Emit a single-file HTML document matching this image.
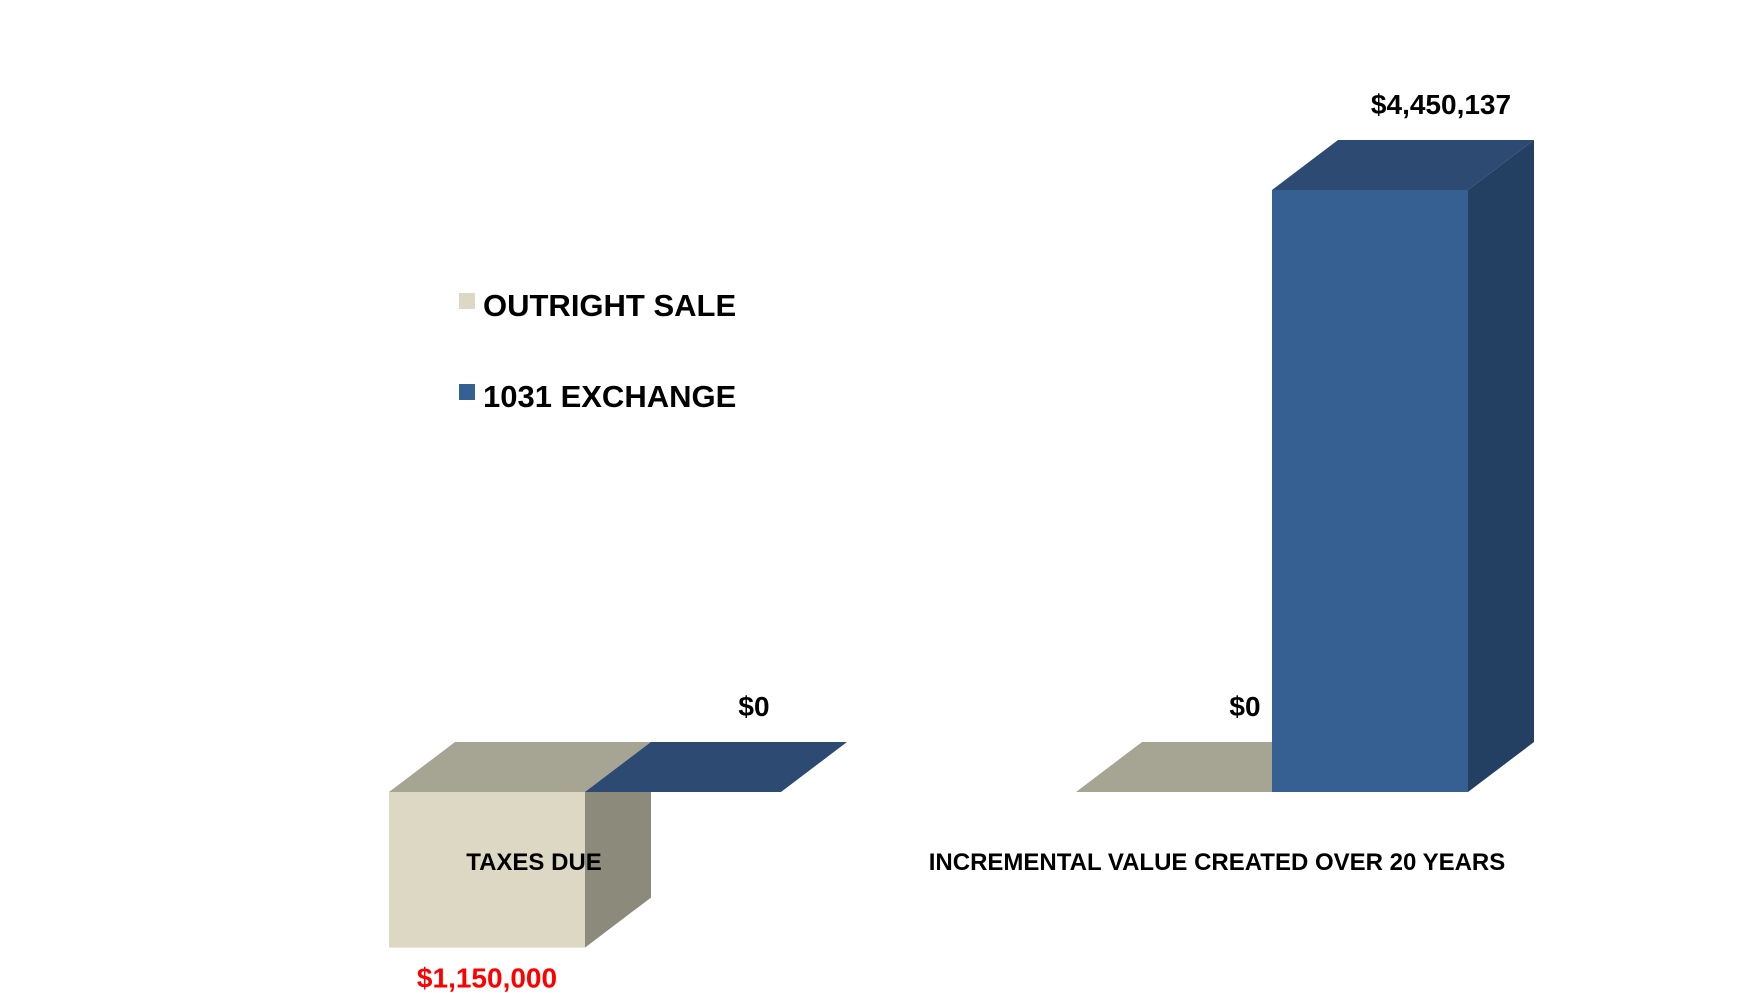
<!DOCTYPE html>
<html><head><meta charset="utf-8"><style>
html,body{margin:0;padding:0;background:#fff;}
svg{display:block;font-family:"Liberation Sans",Arial,sans-serif;font-weight:bold;}
</style></head><body>
<svg id="chart" width="1758" height="993" viewBox="0 0 1758 993" xmlns="http://www.w3.org/2000/svg">
<g id="legend">
<g><rect x="459" y="293" width="16" height="16" fill="#ddd8c4"/><text x="483" y="316" font-size="31">OUTRIGHT SALE</text></g>
<g><rect x="459" y="384" width="16" height="16" fill="#376092"/><text x="483" y="407" font-size="31">1031 EXCHANGE</text></g>
</g>
<g id="bars"></g>
<g id="labels"></g>
</svg>
<script>
const categories = ["TAXES DUE", "INCREMENTAL VALUE CREATED OVER 20 YEARS"];
const outrightSale = [-1150000, 0];
const exchange1031 = [0, 4450137];
const valueLabels = [["$1,150,000", "$0"], ["$0", "$4,450,137"]];

const NS = "http://www.w3.org/2000/svg";
const baseY = 792, pxPerUnit = 602 / 4450137;
const groupX = [389, 1076], barW = 196, dx = 66, dy = 50;
const yScale = v => baseY - v * pxPerUnit;
const colors = [{front:"#ddd8c4", top:"#a6a593", side:"#8c8b7b"}, {front:"#376092", top:"#2c4a72", side:"#233f61"}];
const bars = document.getElementById("bars"), labels = document.getElementById("labels");
function poly(pts, fill, name){
  const p = document.createElementNS(NS, "polygon");
  p.setAttribute("points", pts.map(a => a.join(",")).join(" "));
  p.setAttribute("fill", fill);
  
  
  bars.appendChild(p);
}
function txt(x, y, s, size, fill, name){
  const t = document.createElementNS(NS, "text");
  t.setAttribute("x", x); t.setAttribute("y", y);
  t.setAttribute("font-size", size); t.setAttribute("fill", fill);
  t.setAttribute("text-anchor", "middle");
  t.textContent = s;
  
  
  labels.appendChild(t);
}
const series = [outrightSale, exchange1031];
categories.forEach((cat, i) => {
  series.forEach((vals, s) => {
    const v = vals[i], c = colors[s];
    const x0 = groupX[i] + s * barW, x1 = x0 + barW;
    const yv = yScale(v);
    const top = Math.min(yv, baseY), bot = Math.max(yv, baseY);
    const nm = (s === 0 ? "outright-sale" : "exchange-1031") + "-bar-" + (i + 1);
    if (bot - top > 0) {
      poly([[x0,top],[x1,top],[x1,bot],[x0,bot]], c.front, nm + "-front");
      poly([[x1,top],[x1+dx,top-dy],[x1+dx,bot-dy],[x1,bot]], c.side, nm + "-side");
    }
    poly([[x0,top],[x1,top],[x1+dx,top-dy],[x0+dx,top-dy]], c.top, nm + "-top");
    const lbl = valueLabels[i][s];
    if (v < 0) txt(x0 + barW/2 + 0, bot + 40, lbl, 28, "#ff0000", nm + "-value-label");
    else txt(x0 + barW/2 + dx + 5, top - dy - 26, lbl, 28, "#000", nm + "-value-label");
  });
  txt(i === 0 ? 534 : 1217, 870, cat, 24, "#000", "category-label-" + (i + 1));
});
</script>
</body></html>
